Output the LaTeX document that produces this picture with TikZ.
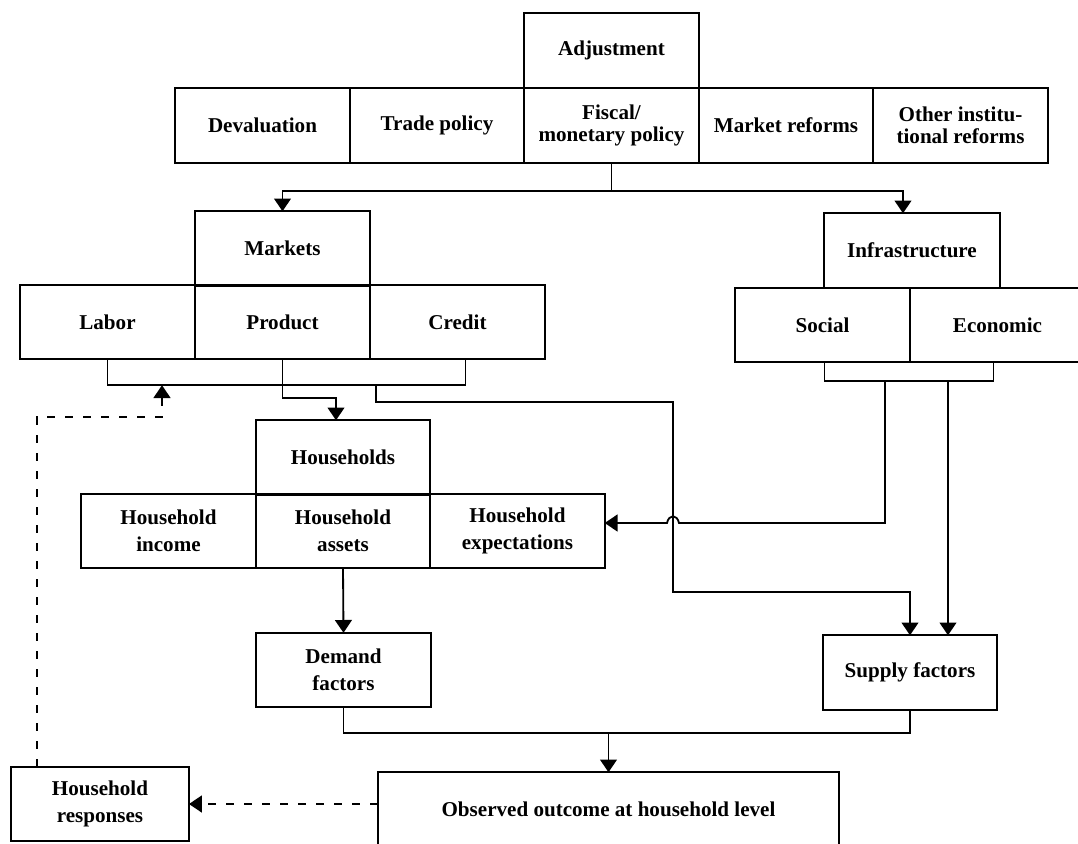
\documentclass[tikz,border=0pt]{standalone}
\usepackage{fontspec}
\setmainfont{Liberation Serif}
\usetikzlibrary{arrows.meta}

\begin{document}
\begin{tikzpicture}[x=0.25mm, y=-0.25mm, line width=1.3pt,
  box/.style={draw, inner sep=1pt, outer sep=0pt, minimum width=43.6mm, minimum height=18.6mm,
    align=center, font=\bfseries\fontsize{15}{19}\selectfont},
  tight/.style={font=\bfseries\fontsize{15}{16}\selectfont},
  arr/.style={-{Triangle[length=3.2mm,width=4.2mm]}},
  fb/.style={arr, dash pattern=on 2mm off 2.5mm}]
	\useasboundingbox (0,0) rectangle (1078,843);
	\clip (0,0) rectangle (1078,843);
	% policy row
	\node[box] (adjust) at (611.5,50.5) {Adjustment};
	\node[box] (deval) at (262.5,125.5) {Devaluation};
	\node[box] (trade) at (437,125.5) {Trade policy};
	\node[box, tight] (fiscal) at (611.5,125.5) {Fiscal/\\monetary policy};
	\node[box] (mreform) at (786,125.5) {Market reforms};
	\node[box, tight] (ireform) at (960.5,125.5) {Other institu-\\tional reforms};
	% markets and infrastructure
	\node[box] (markets) at (282.5,248.5) {Markets};
	\node[box] (labor) at (107.5,322) {Labor};
	\node[box] (product) at (282.5,322) {Product};
	\node[box] (credit) at (457.5,322) {Credit};
	\node[box, minimum width=44mm] (infra) at (912,250.5) {Infrastructure};
	\node[box] (social) at (822.5,325) {Social};
	\node[box] (econ) at (997.5,325) {Economic};
	% households
	\node[box] (hholds) at (343,457.5) {Households};
	\node[box] (hinc) at (168.5,531) {Household\\income};
	\node[box] (hass) at (343,531) {Household\\assets};
	\node[box] (hexp) at (517.5,531) {Household\\expectations};
	\node[box] (demand) at (343.5,670) {Demand\\factors};
	\node[box] (supply) at (910,672.5) {Supply factors};
	\node[box, minimum width=115.25mm] (observed) at (608.5,809.5) {Observed outcome at household level};
	\node[box, minimum width=44.5mm] (responses) at (100,804) {Household\\responses};

	\draw[arr] (fiscal.south) -- ++(0,28) coordinate (split) -| (markets.north);
	\draw[arr] (split) -| ([xshift=-2.25mm]infra.north);

	\draw (labor.south) -- ++(0,26) -| ([xshift=2mm]credit.south);
	\coordinate (mkout) at (376,385.2);
	\coordinate (jog) at (673,402);
	\draw[arr] (product.south) -- ++(0,39) -| ([xshift=-1.75mm]hholds.north);
	\draw[arr] (mkout) |- (jog) |- ([yshift=10.75mm]supply.north) -- (supply.north);

	\draw ([xshift=0.5mm]social.south) -- ++(0,19) -| ([xshift=-1mm]econ.south);
	\coordinate (soc) at (885,381.2);
	\coordinate (eco) at (948,381.2);
	\draw[arr] (soc) |- (679,523) .. controls (677,514) and (669,514) .. (667,523) -- ([yshift=2mm]hexp.east);
	\draw[arr] (eco) -- (eco |- supply.north);

	\draw[arr] (hass.south) -- (demand.north);
	\draw (demand.south) -- ++(0,26) -| (supply.south);
	\draw[arr] ([yshift=9.75mm]observed.north) -- (observed.north);

	% feedback
	\draw[fb] (observed.west |- responses.east) -- (responses.east);
	\coordinate (fbk) at (162,417);
	\draw[fb] ([xshift=6.5mm]responses.north west) |- (fbk) -- (fbk |- mkout);
\end{tikzpicture}
\end{document}
